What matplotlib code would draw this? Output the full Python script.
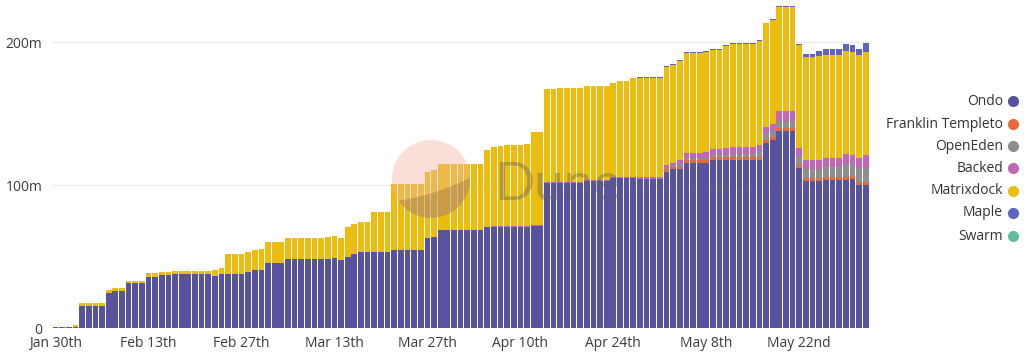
import numpy as np
import pandas as pd
import matplotlib
matplotlib.use("Agg")
import matplotlib.pyplot as plt
from matplotlib.patches import Ellipse, Polygon
from matplotlib.lines import Line2D

plt.rcParams['font.family'] = ['Open Sans', 'DejaVu Sans']

start_date = "2023-01-30"
n_days = 123

series_names = ["Ondo", "Franklin Templeto", "OpenEden", "Backed", "Matrixdock", "Maple", "Swarm"]
series_colors = ["#58539f", "#e8683a", "#8e8e8e", "#c466b8", "#ecbd0f", "#5d62c4", "#5fbf9c"]

ondo = [
    0.6, 0.6, 0.6, 0.5, 15.6, 15.6, 15.6, 15.6, 24.5, 25.7,
    25.7, 31.2, 31.2, 31.2, 36.0, 36.0, 37.0, 37.3, 37.5, 37.5,
    37.5, 37.5, 37.5, 37.5, 36.6, 37.5, 37.5, 37.5, 37.8, 39.2,
    40.3, 40.8, 45.7, 45.7, 45.7, 48.5, 48.5, 48.5, 48.5, 48.0,
    48.0, 48.0, 48.7, 47.3, 49.4, 51.5, 53.4, 53.4, 53.4, 53.4,
    53.4, 54.3, 54.3, 54.3, 54.3, 54.3, 62.7, 63.4, 68.3, 68.3,
    68.3, 68.3, 68.3, 68.3, 68.3, 70.4, 70.8, 70.8, 70.8, 70.8,
    70.8, 70.8, 71.5, 71.5, 101.6, 101.6, 101.6, 101.6, 101.6, 101.6,
    103.0, 103.0, 103.0, 103.0, 105.0, 105.0, 105.0, 105.0, 104.0, 104.0,
    104.0, 104.0, 109.3, 111.0, 111.0, 115.6, 115.6, 115.6, 115.6, 117.5,
    117.5, 117.5, 117.5, 117.5, 117.5, 117.5, 117.5, 129.6, 131.5, 138.0,
    138.0, 138.0, 111.7, 102.8, 102.8, 102.8, 103.5, 103.5, 103.5, 103.5,
    104.2, 100.0, 100.0,
]

franklin = [0.0] * 92 + [
    1.9, 1.4, 1.4, 1.9, 1.9, 1.9, 1.9, 1.9, 1.9, 1.9,
    1.9, 1.9, 1.9, 1.9, 1.9, 1.9, 1.9, 1.9, 1.9, 1.9,
    2.1, 1.9, 1.9, 1.9, 2.1, 2.1, 2.1, 2.1, 2.1, 2.3,
    2.3,
]

openeden = [0.0] * 88 + [
    0.5, 0.5, 0.5, 0.5, 0.9, 1.4, 1.6, 1.6, 1.6, 1.6,
    1.6, 1.6, 1.6, 1.6, 2.6, 2.6, 2.6, 2.6, 4.4, 4.4,
    4.9, 5.1, 5.1, 5.1, 5.6, 6.3, 6.3, 6.3, 6.8, 6.8,
    6.8, 9.3, 7.7, 9.6, 9.6,
]

backed = [0.0] * 56 + [0.5] * 32 + [
    1.2, 1.2, 1.2, 1.2, 1.9, 1.6, 3.5, 3.5, 3.5, 3.5,
    4.2, 4.0, 4.0, 4.7, 4.4, 4.4, 4.4, 4.4, 4.4, 4.7,
    4.4, 6.8, 6.8, 6.8, 6.5, 6.5, 6.5, 6.5, 6.5, 6.5,
    6.5, 6.8, 6.8, 6.8, 8.9,
]

matrixdock = [
    0.0, 0.0, 0.0, 1.8, 2.1, 2.1, 2.1, 2.1, 1.9, 2.0,
    2.0, 1.8, 1.8, 1.8, 2.2, 2.2, 2.0, 2.0, 2.2, 2.4,
    2.4, 2.4, 2.4, 2.4, 3.7, 4.2, 14.0, 14.0, 13.7, 14.2,
    14.2, 14.2, 14.7, 14.7, 14.7, 14.4, 14.4, 14.4, 14.4, 14.9,
    14.9, 15.4, 15.4, 15.6, 21.2, 21.1, 21.0, 21.0, 27.5, 27.5,
    27.5, 46.2, 46.2, 46.2, 46.2, 46.2, 46.1, 46.4, 46.2, 46.2,
    46.2, 46.2, 46.2, 46.2, 46.2, 53.3, 55.3, 56.0, 56.4, 56.4,
    56.4, 57.1, 65.0, 65.0, 65.0, 65.0, 65.5, 65.9, 65.9, 65.9,
    65.5, 65.5, 65.5, 66.0, 66.0, 67.0, 67.0, 69.0, 69.3, 69.3,
    69.3, 69.3, 68.5, 68.5, 69.2, 69.5, 69.5, 69.5, 69.5, 69.4,
    69.4, 71.5, 72.0, 72.0, 72.0, 72.0, 72.5, 72.4, 72.7, 72.7,
    72.7, 72.7, 72.0, 72.0, 72.0, 72.7, 71.8, 71.8, 71.8, 72.2,
    72.4, 72.2, 72.0,
]

maple = [0.0] * 88 + [0.6] * 24 + [
    0.7, 2.3, 2.3, 3.7, 4.4, 4.4, 4.4, 4.5, 4.5, 4.2, 6.7,
]

swarm = [0.0] * 123

tick_labels = ["Jan 30th", "Feb 13th", "Feb 27th", "Mar 13th", "Mar 27th",
               "Apr 10th", "Apr 24th", "May 8th", "May 22nd"]
tick_dates = ["2023-01-30", "2023-02-13", "2023-02-27", "2023-03-13", "2023-03-27",
              "2023-04-10", "2023-04-24", "2023-05-08", "2023-05-22"]
y_ticks = [0, 100, 200]
y_tick_labels = ["0", "100m", "200m"]

# ---------------------------------------------------------------
W, H = 1024, 356
fig = plt.figure(figsize=(W / 100, H / 100), dpi=100)
fig.patch.set_facecolor("white")

ax_left, ax_right = 52.2, 869.0
ax_bottom_px, ax_top_px = 328.0, 0.0
ax = fig.add_axes([ax_left / W, 1 - ax_bottom_px / H,
                   (ax_right - ax_left) / W, (ax_bottom_px - ax_top_px) / H])

dates = pd.date_range(start_date, periods=n_days, freq="D")
x = np.arange(n_days)
all_series = [ondo, franklin, openeden, backed, matrixdock, maple, swarm]
bottom = np.zeros(n_days)
for name, vals, col in zip(series_names, all_series, series_colors):
    v = np.array(vals, dtype=float)
    ax.bar(x, v, bottom=bottom, width=0.86, color=col, linewidth=0, zorder=3)
    bottom += v

ax.set_xlim(-0.5, n_days - 0.5)
ax.set_ylim(0, 229.4)

tick_pos = [dates.get_loc(pd.Timestamp(d)) for d in tick_dates]
ax.set_xticks(tick_pos)
ax.set_xticklabels(tick_labels)
ax.set_yticks(y_ticks)
ax.set_yticklabels(y_tick_labels)
ax.tick_params(axis="both", length=0, labelsize=10, colors="#3c3c3c")
ax.tick_params(axis="x", pad=6)
ax.tick_params(axis="y", pad=7)
for s in ax.spines.values():
    s.set_visible(False)
ax.grid(axis="y", color="#ececec", linewidth=1, zorder=0)
ax.axhline(0, color="#d8d8d8", linewidth=1, zorder=2)
ax.set_facecolor("white")

# Legend (manual, right side)
leg_y = [101, 124, 146, 168, 191, 213, 236]
for name, col, yy in zip(series_names, series_colors, leg_y):
    fig.text(1003 / W, 1 - yy / H, name, ha="right", va="center",
             fontsize=10, color="#333333")
    fig.add_artist(Line2D([1013 / W], [1 - yy / H], marker="o", markersize=7,
                          color=col, linestyle="none", transform=fig.transFigure))

# Dune watermark
cx, cy, r = 431, 179, 39
fig.add_artist(Ellipse((cx / W, 1 - cy / H), 2 * r / W, 2 * r / H,
                       transform=fig.transFigure, facecolor="#f2b4a0",
                       alpha=0.42, edgecolor="none", zorder=5))
# lower segment of the logo (below a slightly curved chord)
a1 = np.arctan2(-(201 - cy), 398 - cx)
a2 = np.arctan2(-(178 - cy), 470 - cx)
angs = np.linspace(a1, a2, 60)
pts_px = [(cx + r * np.cos(a), cy - r * np.sin(a)) for a in angs]
sx, sy = 398, 201
ex, ey = 470, 178
for tt in np.linspace(1, 0, 20)[1:-1]:
    px = sx + (ex - sx) * tt
    py = sy + (ey - sy) * tt + 3 * np.sin(np.pi * tt)
    pts_px.append((px, py))
pts = [(px / W, 1 - py / H) for px, py in pts_px]
fig.add_artist(Polygon(pts, closed=True, transform=fig.transFigure,
                       facecolor="#5a4636", alpha=0.25, edgecolor="none", zorder=6))
fig.text(494 / W, 1 - 200 / H, "Dune", ha="left", va="baseline", fontsize=38,
         family=["Lato", "DejaVu Sans"], color="#5e5e5e", alpha=0.4, zorder=6)

fig.savefig("out.png", dpi=100, facecolor="white")
